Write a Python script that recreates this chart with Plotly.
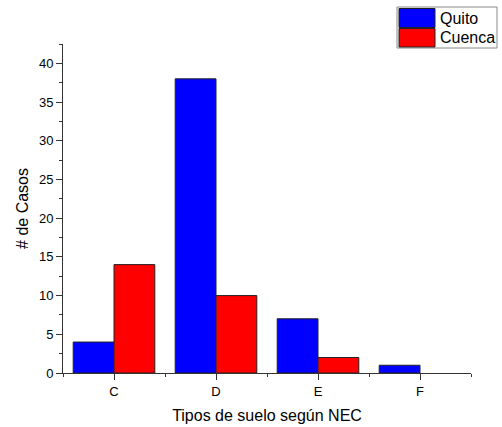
import plotly.graph_objects as go

# Soil type categories (NEC) and case counts per city
categories = ["C", "D", "E", "F"]
quito = [4, 38, 7, 1]
cuenca = [14, 10, 2, 0]
series_names = ["Quito", "Cuenca"]
series_colors = ["#0000FF", "#FF0000"]

x_pos = list(range(len(categories)))

fig = go.Figure()
for name, vals, col in zip(series_names, [quito, cuenca], series_colors):
    fig.add_trace(go.Bar(
        x=x_pos, y=vals, name=name,
        marker=dict(color=col,
                    line=dict(color="#222222",
                              width=[1 if v > 0 else 0 for v in vals])),
        showlegend=False,
    ))

# Plot area geometry (pixels) used to place the boxed legend
W, H = 502, 427
L, R, T, B = 63, 31, 44, 54
pw, ph = W - L - R, H - T - B

def px(x):
    return (x - L) / pw

def py(y):
    return (H - B - y) / ph

shapes = [
    dict(type="rect", xref="paper", yref="paper",
         x0=px(397), x1=px(497), y0=py(48), y1=py(7),
         line=dict(color="#888888", width=1), fillcolor="white"),
]
annotations = []
rows = [(8.5, 27.5), (28.5, 47)]
for (y0, y1), name, col in zip(rows, series_names, series_colors):
    shapes.append(dict(type="rect", xref="paper", yref="paper",
                       x0=px(399), x1=px(435), y0=py(y1), y1=py(y0),
                       line=dict(color="#222222", width=1), fillcolor=col))
    annotations.append(dict(xref="paper", yref="paper",
                            x=px(438), y=py((y0 + y1) / 2),
                            xanchor="left", yanchor="middle",
                            text=name, showarrow=False,
                            font=dict(size=16, color="black")))

fig.update_layout(
    width=W, height=H,
    margin=dict(l=L, r=R, t=T, b=B, pad=0),
    paper_bgcolor="white", plot_bgcolor="white",
    barmode="group", bargap=0.2, bargroupgap=0,
    font=dict(family="Liberation Sans, Arial, sans-serif", color="black"),
    shapes=shapes, annotations=annotations,
    xaxis=dict(
        range=[-0.5, 3.5], automargin=False,
        tickmode="array", tickvals=x_pos, ticktext=categories,
        ticks="outside", ticklen=6, tickwidth=1, tickcolor="#333333",
        showline=True, linecolor="#333333", linewidth=1,
        showgrid=False, zeroline=False,
        tickfont=dict(size=13),
        minor=dict(tick0=0.5, dtick=1, ticks="outside", ticklen=3,
                   tickcolor="#333333", showgrid=False),
        title=dict(text="Tipos de suelo según NEC", font=dict(size=16), standoff=12),
    ),
    yaxis=dict(
        range=[0, 42.5], automargin=False,
        tick0=0, dtick=5,
        ticks="outside", ticklen=6, tickwidth=1, tickcolor="#333333",
        showline=True, linecolor="#333333", linewidth=1,
        showgrid=False, zeroline=False,
        tickfont=dict(size=13),
        minor=dict(tick0=0, dtick=2.5, ticks="outside", ticklen=3,
                   tickcolor="#333333", showgrid=False),
        title=dict(text="# de Casos", font=dict(size=16), standoff=6),
    ),
)

fig.write_html("out.html")
